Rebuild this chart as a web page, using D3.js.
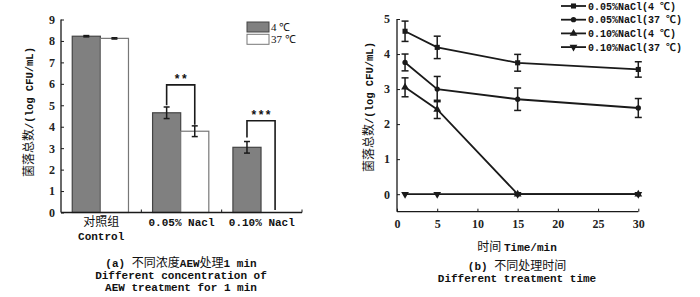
<!DOCTYPE html>
<html><head><meta charset="utf-8">
<script src="https://cdn.jsdelivr.net/npm/d3@7"></script>
<style>
body{margin:0;background:#fff;}
svg{display:block;}
</style></head><body>
<svg id="c" width="700" height="297"></svg>
<script>
// ---------- Data (a) ----------
const categoriesCN = ["对照组", "0.05% Nacl", "0.10% Nacl"];
const categoriesEN = ["Control", "", ""];
const temps = ["4 ℃", "37 ℃"];
const means4 = [8.22, 4.65, 3.04];
const means37 = [8.12, 3.79, 0];
const err4 = [0.03, 0.27, 0.27];
const err37 = [0.03, 0.25, 0];
const yTicksA = [0,1,2,3,4,5,6,7,8,9];
const sigLabels = ["", "**", "***"];
const sigTop = [null, 5.95, 4.28];
const sigLegLeft = [null, 5.0, 3.50];
const sigLegRight = [null, 4.09, 0.12];
// ---------- Data (b) ----------
const times = [1, 5, 15, 30];
const seriesNames = ["0.05%NaCl(4 ℃)", "0.05%NaCl(37 ℃)", "0.10%NaCl(4 ℃)", "0.10%NaCl(37 ℃)"];
const s05_4 = [4.65, 4.19, 3.75, 3.56];
const s05_37 = [3.76, 3.00, 2.71, 2.46];
const s10_4 = [3.05, 2.42, 0, 0];
const s10_37 = [0, 0, 0, 0];
const e05_4 = [0.29, 0.32, 0.24, 0.22];
const e05_37 = [0.24, 0.36, 0.32, 0.27];
const e10_4 = [0.27, 0.26, 0, 0];
const e10_37 = [0, 0, 0, 0];
const xTicksB = [0,5,10,15,20,25,30];
const yTicksB = [0,1,2,3,4,5];
const symbols = [d3.symbolSquare, d3.symbolCircle, d3.symbolTriangle, "down"];

const svg = d3.select("#c");
const dark = "#1a1a1a";
const txt = "#111";
const monoFont = "'Liberation Mono', 'Noto Sans CJK SC', monospace";
const cjkFont = "'Noto Sans CJK SC', 'Liberation Mono', serif";
const numFont = "'Liberation Serif', serif";

// ================= Chart (a) =================
const gA = svg.append("g");
const xA = d3.scaleBand().domain(categoriesCN).range([61, 302]).padding(0);
const yA = d3.scaleLinear().domain([0, 9]).range([212.5, 19.5]);
const x1 = d3.scaleBand().domain(temps).range([xA.bandwidth()*0.14, xA.bandwidth()*0.84]);

const barData = [];
categoriesCN.forEach((c,i)=>{
  barData.push({c, t: temps[0], v: means4[i], e: err4[i]});
  barData.push({c, t: temps[1], v: means37[i], e: err37[i]});
});
gA.selectAll("rect.bar").data(barData.filter(d=>d.v>0)).enter().append("rect")
  .attr("x", d=>xA(d.c)+x1(d.t))
  .attr("y", d=>yA(d.v))
  .attr("width", x1.bandwidth())
  .attr("height", d=>yA(0)-yA(d.v))
  .attr("fill", d=>d.t===temps[0]?"#808080":"#fff")
  .attr("stroke", d=>d.t===temps[0]?"#444":"#777")
  .attr("stroke-width", 1.2);

// error bars (a)
const ebA = gA.selectAll("g.eb").data(barData.filter(d=>d.e>0)).enter().append("g");
ebA.each(function(d){
  const g = d3.select(this);
  const cx = xA(d.c)+x1(d.t)+x1.bandwidth()/2;
  g.append("line").attr("x1",cx).attr("x2",cx).attr("y1",yA(d.v+d.e)).attr("y2",yA(d.v-d.e)).attr("stroke",dark).attr("stroke-width",1.5);
  g.append("line").attr("x1",cx-3).attr("x2",cx+3).attr("y1",yA(d.v+d.e)).attr("y2",yA(d.v+d.e)).attr("stroke",dark).attr("stroke-width",1.5);
  g.append("line").attr("x1",cx-3).attr("x2",cx+3).attr("y1",yA(d.v-d.e)).attr("y2",yA(d.v-d.e)).attr("stroke",dark).attr("stroke-width",1.5);
});

// significance brackets
categoriesCN.forEach((c,i)=>{
  if(!sigLabels[i]) return;
  const xl = xA(c)+x1(temps[0])+x1.bandwidth()/2;
  const xr = xA(c)+x1(temps[1])+x1.bandwidth()/2;
  gA.append("path")
    .attr("d", `M${xl},${yA(sigLegLeft[i])}V${yA(sigTop[i])}H${xr}V${yA(sigLegRight[i])}`)
    .attr("fill","none").attr("stroke",dark).attr("stroke-width",1.6);
  gA.append("text").attr("x",(xl+xr)/2).attr("y",yA(sigTop[i])-1.5)
    .attr("text-anchor","middle").attr("font-family",monoFont).attr("font-size",12).attr("font-weight","bold").attr("fill",txt)
    .text(sigLabels[i]);
});

// axes (a)
const axA = d3.axisLeft(yA).tickValues(yTicksA).tickSize(-3).tickPadding(6).tickFormat(d3.format("d"));
const gyA = gA.append("g").attr("transform","translate(61,0)").call(axA);
gyA.select(".domain").attr("d", `M0,${yA(9)}V${yA(0)}`).attr("stroke",dark).attr("stroke-width",1.3);
gyA.selectAll(".tick line").attr("stroke",dark);
gyA.selectAll("text").attr("font-family",numFont).attr("font-size",12).attr("font-weight","bold").attr("fill","#222");

gA.append("line").attr("x1",61).attr("x2",302).attr("y1",yA(0)).attr("y2",yA(0)).attr("stroke",dark).attr("stroke-width",1.3);
categoriesCN.forEach(c=>{
  const xb = xA(c)+xA.bandwidth();
  gA.append("line").attr("x1",xb).attr("x2",xb).attr("y1",yA(0)).attr("y2",yA(0)-3).attr("stroke",dark);
});
gA.selectAll("text.xcn").data(categoriesCN).enter().append("text")
  .attr("x", d=>xA(d)+xA.bandwidth()/2).attr("y", 226)
  .attr("text-anchor","middle").attr("font-family",(d,i)=>i===0?cjkFont:monoFont).attr("font-size",(d,i)=>i===0?12:11)
  .attr("font-weight",(d,i)=>i===0?"normal":"bold").attr("fill",txt)
  .text(d=>d);
gA.selectAll("text.xen").data(categoriesEN).enter().append("text")
  .attr("x", (d,i)=>xA(categoriesCN[i])+xA.bandwidth()/2).attr("y", 240)
  .attr("text-anchor","middle").attr("font-family",monoFont).attr("font-size",11).attr("font-weight","bold").attr("fill",txt)
  .text(d=>d);

function yLabel(g, x, y){
  const t = g.append("text").attr("transform",`translate(${x},${y}) rotate(-90)`)
    .attr("text-anchor","middle").attr("fill",txt);
  t.append("tspan").attr("font-family",cjkFont).attr("font-size",12).text("菌落总数");
  t.append("tspan").attr("font-family",monoFont).attr("font-size",10.5).attr("font-weight","bold").text("/(log CFU/mL)");
}
yLabel(gA, 33, 112);

// legend (a)
temps.forEach((t,i)=>{
  gA.append("rect").attr("x",247).attr("y",22+i*12.3).attr("width",22).attr("height",10)
    .attr("fill", i===0?"#808080":"#fff").attr("stroke", i===0?"#444":"#777").attr("stroke-width",1);
  gA.append("text").attr("x",271).attr("y",31+i*12.3).attr("font-family",numFont).attr("font-size",11).attr("fill",txt).text(t);
});

// caption (a)
function caption(g, x, y, cn, lines){
  const t = g.append("text").attr("x",x).attr("y",y).attr("text-anchor","middle").attr("fill",txt);
  cn.forEach(([s,isCJK])=>t.append("tspan").attr("font-family",isCJK?cjkFont:monoFont)
    .attr("font-size",isCJK?12:11).attr("font-weight",isCJK?"normal":"bold").text(s));
  lines.forEach((s,i)=>{
    g.append("text").attr("x",x).attr("y",y+12+i*12).attr("text-anchor","middle")
      .attr("font-family",monoFont).attr("font-size",11).attr("font-weight","bold").attr("fill",txt).text(s);
  });
}
caption(gA, 181, 267, [["(a) ",false],["不同浓度",true],["AEW",false],["处理",true],["1 min",false]],
  ["Different concentration of", "AEW treatment for 1 min"]);

// ================= Chart (b) =================
const gB = svg.append("g");
const xB = d3.scaleLinear().domain([0,30]).range([397, 638.3]);
const yB = d3.scaleLinear().domain([-0.5,5]).range([211.7, 19]);
const seriesVals = [s05_4, s05_37, s10_4, s10_37];
const seriesErr = [e05_4, e05_37, e10_4, e10_37];

function sym(k, size){
  if(k==="down") return d3.symbol().type(d3.symbolTriangle).size(size)();
  return d3.symbol().type(k).size(size)();
}
const line = d3.line().x(d=>xB(d.t)).y(d=>yB(d.v));

seriesNames.forEach((n,si)=>{
  const pts = times.map((t,j)=>({t, v: seriesVals[si][j], e: seriesErr[si][j]}));
  gB.append("path").attr("d", line(pts)).attr("fill","none").attr("stroke",dark).attr("stroke-width",1.8);
  pts.filter(p=>p.e>0).forEach(p=>{
    const cx = xB(p.t);
    gB.append("line").attr("x1",cx).attr("x2",cx).attr("y1",yB(p.v+p.e)).attr("y2",yB(p.v-p.e)).attr("stroke",dark).attr("stroke-width",1.5);
    [p.v+p.e, p.v-p.e].forEach(v=>gB.append("line").attr("x1",cx-3.5).attr("x2",cx+3.5).attr("y1",yB(v)).attr("y2",yB(v)).attr("stroke",dark).attr("stroke-width",1.5));
  });
  gB.selectAll(null).data(pts).enter().append("path")
    .attr("d", sym(symbols[si], si===1?22:26))
    .attr("transform", d=>`translate(${xB(d.t)},${yB(d.v)})${symbols[si]==="down"?" rotate(180)":""}`)
    .attr("fill",dark);
});

// axes (b)
const gyB = gB.append("g").attr("transform","translate(397,0)")
  .call(d3.axisLeft(yB).tickValues(yTicksB).tickSize(-3).tickPadding(7).tickFormat(d3.format("d")));
gyB.select(".domain").attr("d", `M0,${yB(5)}V${yB(-0.5)}`).attr("stroke",dark).attr("stroke-width",1.3);
gyB.selectAll(".tick line").attr("stroke",dark);
gyB.selectAll("text").attr("font-family",numFont).attr("font-size",12).attr("font-weight","bold").attr("fill","#222");

const gxB = gB.append("g").attr("transform",`translate(0,${yB(-0.5)})`)
  .call(d3.axisBottom(xB).tickValues(xTicksB).tickSize(-3).tickPadding(8).tickFormat(d3.format("d")));
gxB.select(".domain").attr("d", `M${xB(0)},0H${xB(30)}`).attr("stroke",dark).attr("stroke-width",1.3);
gxB.selectAll(".tick line").attr("stroke",dark);
gxB.selectAll("text").attr("font-family",numFont).attr("font-size",12).attr("font-weight","bold").attr("fill","#222");

yLabel(gB, 373, 107);
{
  const t = gB.append("text").attr("x",517).attr("y",251).attr("text-anchor","middle").attr("fill",txt);
  t.append("tspan").attr("font-family",cjkFont).attr("font-size",12).text("时间 ");
  t.append("tspan").attr("font-family",monoFont).attr("font-size",11).attr("font-weight","bold").text("Time/min");
}
caption(gB, 517, 270, [["(b) ",false],["不同处理时间",true]], ["Different treatment time"]);

// legend (b)
seriesNames.forEach((n,si)=>{
  const y = 6 + si*13.7;
  gB.append("line").attr("x1",561).attr("x2",586).attr("y1",y).attr("y2",y).attr("stroke",dark).attr("stroke-width",1.8);
  gB.append("path").attr("d", sym(symbols[si], si===1?22:26))
    .attr("transform", `translate(573.5,${y})${symbols[si]==="down"?" rotate(180)":""}`).attr("fill",dark);
  gB.append("text").attr("x",588).attr("y",y+3.5).attr("font-family",monoFont).attr("font-size",10).attr("font-weight","bold").attr("fill",txt).text(n);
});
</script>
</body></html>
